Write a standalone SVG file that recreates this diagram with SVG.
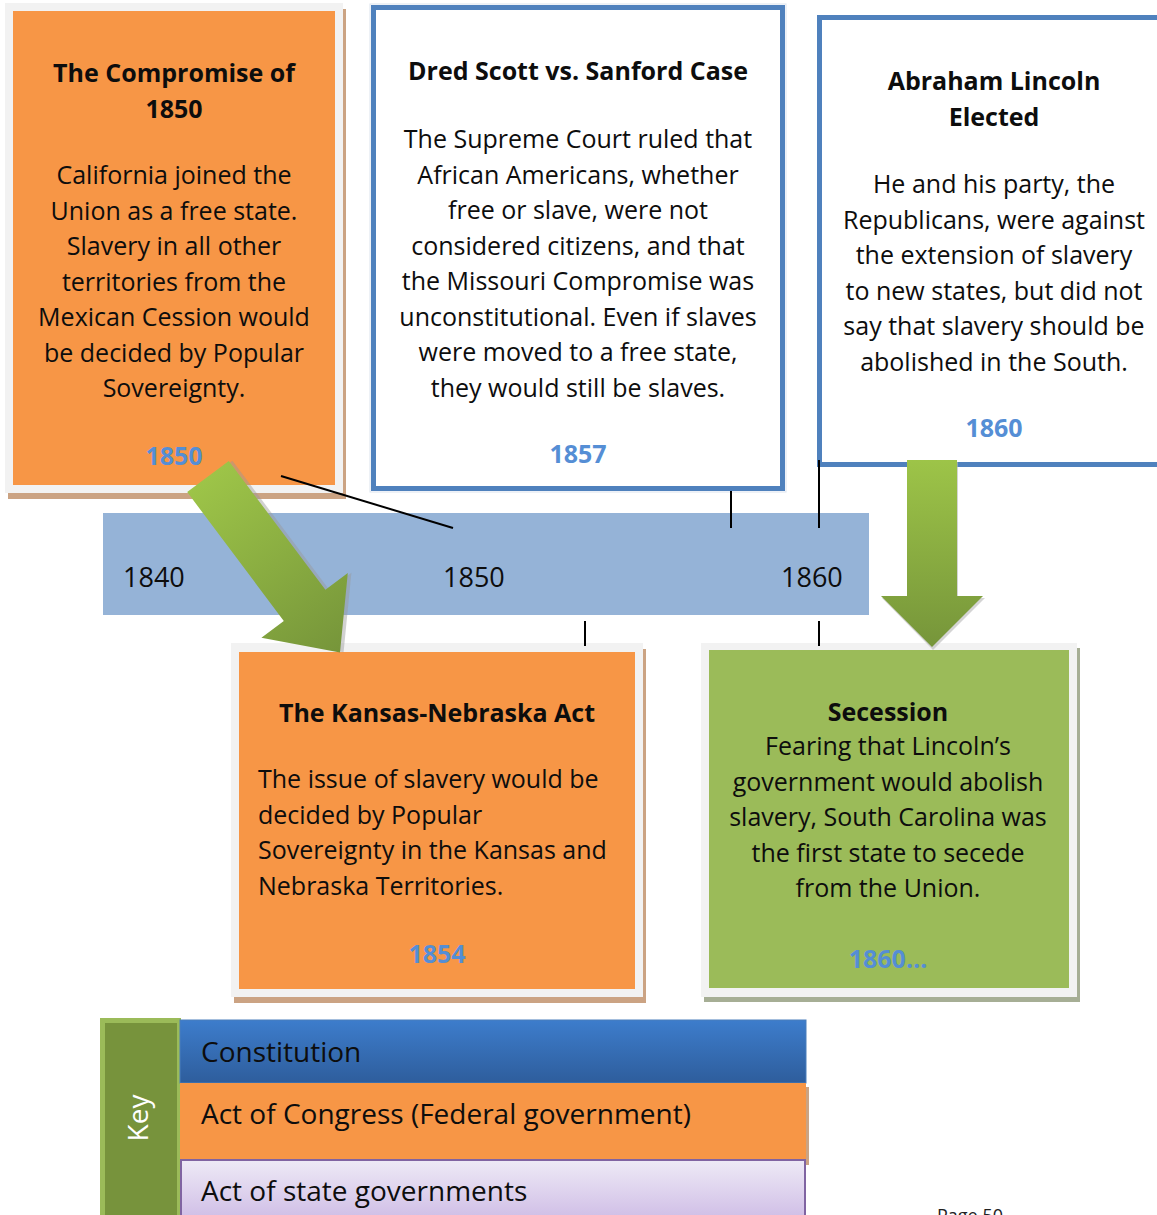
<svg xmlns="http://www.w3.org/2000/svg" width="1157" height="1215" viewBox="0 0 1157 1215">
<defs>
<style>
text{font-family:"Open Sans","Noto Sans","DejaVu Sans",sans-serif;fill:#0d0d0d}
.t{font-size:25px;font-weight:bold;text-anchor:middle}
.b{font-size:25px;text-anchor:middle}
.bl{font-size:25px}
.yr{font-size:25px;font-weight:bold;fill:#558ED5;text-anchor:middle}
.tl{font-size:27px}
.k{font-size:28px}
.frame{fill:#F2F2F2}
.tan{fill:#CBA383}
.org{fill:#F79646}
.grn{fill:#9BBB59}
.wbox{fill:#fff;stroke:#4F81BD;stroke-width:5}
.ln{stroke:#000;stroke-width:2;fill:none}
</style>
<linearGradient id="ga" x1="0" y1="0" x2="0" y2="1">
<stop offset="0" stop-color="#9DC448"/>
<stop offset="1" stop-color="#76953A"/>
</linearGradient>
<linearGradient id="gb" x1="0" y1="0" x2="0" y2="1">
<stop offset="0" stop-color="#3D7DCC"/>
<stop offset="1" stop-color="#2E5D9C"/>
</linearGradient>
<linearGradient id="gl" x1="0" y1="0" x2="0" y2="1">
<stop offset="0" stop-color="#EEEAF6"/>
<stop offset="1" stop-color="#CFBDE6"/>
</linearGradient>
</defs>

<g id="timeline">
<rect x="103" y="513" width="766" height="102" fill="#95B3D7"/>
<text class="tl" x="123" y="587">1840</text>
<text class="tl" x="443" y="587">1850</text>
<text class="tl" x="781" y="587">1860</text>
</g>

<g id="compromise1850">
<rect class="tan" x="8" y="9" width="338" height="490"/>
<rect class="frame" x="5" y="3" width="338" height="490"/>
<rect class="org" x="13" y="11" width="322" height="474"/>
<text class="t" x="174" y="82">The Compromise of</text>
<text class="t" x="174" y="117.5">1850</text>
<text class="b" x="174" y="184">California joined the</text>
<text class="b" x="174" y="219.5">Union as a free state.</text>
<text class="b" x="174" y="255">Slavery in all other</text>
<text class="b" x="174" y="290.5">territories from the</text>
<text class="b" x="174" y="326">Mexican Cession would</text>
<text class="b" x="174" y="361.5">be decided by Popular</text>
<text class="b" x="174" y="397">Sovereignty.</text>
<text class="yr" x="174" y="465">1850</text>
</g>

<g id="dredscott">
<rect x="370" y="4" width="416" height="488" fill="none" stroke="#DCE3EE" stroke-width="1"/>
<rect class="wbox" x="373.5" y="7.5" width="409" height="481"/>
<text class="t" x="578" y="80">Dred Scott vs. Sanford Case</text>
<text class="b" x="578" y="148">The Supreme Court ruled that</text>
<text class="b" x="578" y="183.5">African Americans, whether</text>
<text class="b" x="578" y="219">free or slave, were not</text>
<text class="b" x="578" y="254.5">considered citizens, and that</text>
<text class="b" x="578" y="290">the Missouri Compromise was</text>
<text class="b" x="578" y="325.5">unconstitutional. Even if slaves</text>
<text class="b" x="578" y="361">were moved to a free state,</text>
<text class="b" x="578" y="396.5">they would still be slaves.</text>
<text class="yr" x="578" y="463">1857</text>
</g>

<g id="lincoln">
<rect class="wbox" x="819.5" y="17.5" width="400" height="447"/>
<text class="t" x="994" y="90">Abraham Lincoln</text>
<text class="t" x="994" y="126">Elected</text>
<text class="b" x="994" y="193">He and his party, the</text>
<text class="b" x="994" y="228.5">Republicans, were against</text>
<text class="b" x="994" y="264">the extension of slavery</text>
<text class="b" x="994" y="299.5">to new states, but did not</text>
<text class="b" x="994" y="335">say that slavery should be</text>
<text class="b" x="994" y="370.5">abolished in the South.</text>
<text class="yr" x="994" y="437">1860</text>
</g>

<g id="kansasnebraska">
<rect class="tan" x="234" y="649" width="412" height="354"/>
<rect class="frame" x="231" y="643" width="412" height="354"/>
<rect class="org" x="239" y="652" width="396" height="337"/>
<text class="t" x="437" y="722">The Kansas-Nebraska Act</text>
<text class="bl" x="258" y="788">The issue of slavery would be</text>
<text class="bl" x="258" y="823.5">decided by Popular</text>
<text class="bl" x="258" y="859">Sovereignty in the Kansas and</text>
<text class="bl" x="258" y="894.5">Nebraska Territories.</text>
<text class="yr" x="437" y="963">1854</text>
</g>

<g id="secession">
<rect x="704" y="648" width="376" height="354" fill="#A6AE95"/>
<rect class="frame" x="701" y="643" width="376" height="354"/>
<rect class="grn" x="709" y="650" width="360" height="338"/>
<text class="t" x="888" y="721">Secession</text>
<text class="b" x="888" y="755">Fearing that Lincoln’s</text>
<text class="b" x="888" y="790.5">government would abolish</text>
<text class="b" x="888" y="826">slavery, South Carolina was</text>
<text class="b" x="888" y="861.5">the first state to secede</text>
<text class="b" x="888" y="897">from the Union.</text>
<text class="yr" x="888" y="968">1860…</text>
</g>

<g id="connectors">
<line class="ln" x1="281" y1="476" x2="453" y2="528"/>
<line class="ln" x1="731" y1="491" x2="731" y2="528"/>
<line class="ln" x1="819" y1="460" x2="819" y2="528"/>
<line class="ln" x1="585" y1="621" x2="585" y2="646"/>
<line class="ln" x1="819" y1="621" x2="819" y2="646"/>
<g id="arrow-diagonal" transform="translate(208,476.5) rotate(-36.87)">
<polygon points="-26,0 26,0 26,161 54,161 0,220 -54,161 -26,161" fill="#9A9A9A" opacity="0.45" transform="translate(3,2)"/>
<polygon points="-26,0 26,0 26,161 54,161 0,220 -54,161 -26,161" fill="url(#ga)"/>
</g>
<g id="arrow-down">
<polygon points="907,460 957,460 957,596 984,596 932,648 881,596 907,596" fill="#B8B8B8" opacity="0.6" transform="translate(1,2)"/>
<polygon points="907,460 957,460 957,596 983,596 932,647 881,596 907,596" fill="url(#ga)"/>
</g>
</g>

<g id="key">
<rect x="100" y="1018" width="81" height="200" fill="#9BBB59"/>
<rect x="105" y="1023" width="72" height="195" fill="#77933C"/>
<text class="k" x="0" y="0" transform="translate(148,1118) rotate(-90)" text-anchor="middle" style="fill:#fff">Key</text>
<rect x="180" y="1020" width="626" height="63" fill="url(#gb)" stroke="#4A7EBB" stroke-width="1"/>
<text class="k" x="201" y="1062">Constitution</text>
<rect x="806" y="1087" width="3" height="78" fill="#CBA383"/>
<rect x="180" y="1083" width="626" height="76" fill="#F79646"/>
<text class="k" x="201" y="1124">Act of Congress (Federal government)</text>
<rect x="181" y="1160" width="624" height="60" fill="url(#gl)" stroke="#8064A2" stroke-width="2"/>
<text class="k" x="201" y="1201">Act of state governments</text>
</g>

<g id="page">
<text x="937" y="1222" style="font-size:18px;fill:#222">Page 50</text>
</g>
</svg>
